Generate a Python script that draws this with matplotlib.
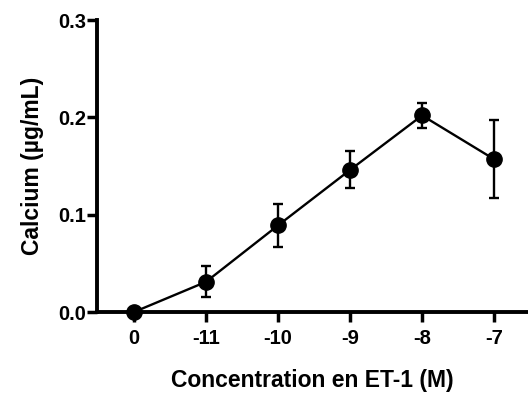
import matplotlib
matplotlib.use('Agg')
from matplotlib import pyplot as plt
import numpy as np

plt.rcParams['font.family'] = ['Liberation Sans', 'DejaVu Sans']
plt.rcParams['font.weight'] = 'bold'

labels = ['0', '-11', '-10', '-9', '-8', '-7']
calcium = [0.0, 0.031, 0.089, 0.146, 0.202, 0.157]
sem = [0.002, 0.016, 0.022, 0.019, 0.013, 0.040]

x = np.arange(len(labels))

fig = plt.figure(figsize=(5.28, 3.94), dpi=100)
ax = fig.add_axes([0.184, 0.208, 0.816, 0.741])

ax.errorbar(x, calcium, yerr=sem, color='black', lw=1.7, marker='o', ms=11,
            capsize=3.5, capthick=1.7, elinewidth=1.7, clip_on=False, zorder=3)

ax.set_xlim(-0.51, 5.47)
ax.set_ylim(0, 0.3)
ax.set_yticks([0.0, 0.1, 0.2, 0.3])
ax.set_yticklabels(['0.0', '0.1', '0.2', '0.3'])
ax.set_xticks(x)
ax.set_xticklabels(labels)

for s in ['top', 'right']:
    ax.spines[s].set_visible(False)
for s in ['left', 'bottom']:
    ax.spines[s].set_linewidth(2.8)
ax.tick_params(width=2.5, length=7, labelsize=14.5)
ax.tick_params(axis='x', pad=5)
ax.tick_params(axis='y', pad=1)
for t in ax.get_xticklabels() + ax.get_yticklabels():
    t.set_fontweight('bold')

ax.set_xlabel('Concentration en ET-1 (M)', fontsize=16.5, fontweight='bold', labelpad=15)
ax.set_ylabel('Calcium (µg/mL)', fontsize=16.5, fontweight='bold', labelpad=10)

fig.savefig('out.png', dpi=100)
